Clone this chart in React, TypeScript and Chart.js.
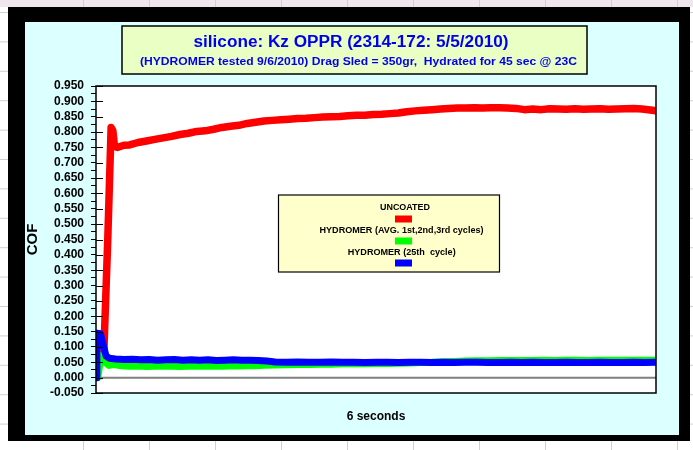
import React, { useEffect, useRef } from "react";
import { Chart, registerables } from "chart.js";

Chart.register(...registerables);

const TITLE = "silicone: Kz OPPR (2314-172: 5/5/2010)";
const SUBTITLE = "(HYDROMER tested 9/6/2010) Drag Sled = 350gr,  Hydrated for 45 sec @ 23C";
const X_TITLE = "6 seconds";
const Y_TITLE = "COF";
const SERIES_NAMES = ["UNCOATED", "HYDROMER (AVG. 1st,2nd,3rd cycles)", "HYDROMER (25th  cycle)"];
const SERIES_COLORS = ["#FF0000", "#00FF00", "#0000FF"];
const SERIES_WIDTHS = [7.5, 7, 7];
const Y_MIN = -0.05;
const Y_MAX = 0.95;
const X_MIN = 0;
const X_MAX = 100;

// [time (% of run), COF]
const uncoated: [number, number][] = [
  [0.2, 0.05], [1.4, 0.085], [2.1, 0.45], [2.7, 0.815], [3.0, 0.805], [3.3, 0.755], [3.8, 0.75],
  [5, 0.757], [6, 0.758], [7.5, 0.766], [9, 0.771], [10.5, 0.776], [12, 0.781], [13.5, 0.786],
  [15, 0.792], [16.5, 0.796], [18, 0.802], [19.5, 0.804], [21, 0.809], [22.5, 0.815], [24, 0.819],
  [25.5, 0.822], [27, 0.828], [28.5, 0.832], [30, 0.836], [31.5, 0.838], [33, 0.84], [34.5, 0.842],
  [36, 0.844], [37.5, 0.845], [39, 0.847], [40.5, 0.849], [42, 0.85], [43.5, 0.851], [45, 0.853],
  [46.5, 0.855], [48, 0.855], [49.5, 0.857], [51, 0.858], [52.5, 0.86], [54, 0.862], [55.5, 0.866],
  [57, 0.869], [58.5, 0.871], [60, 0.873], [61.5, 0.875], [63, 0.877], [64.5, 0.878], [66, 0.878],
  [67.5, 0.879], [69, 0.878], [70.5, 0.879], [72, 0.879], [73.5, 0.878], [75, 0.877], [76.5, 0.873],
  [78, 0.875], [79.5, 0.873], [81, 0.876], [82.5, 0.875], [84, 0.874], [85.5, 0.876], [87, 0.874],
  [88.5, 0.875], [90, 0.876], [91.5, 0.874], [93, 0.875], [94.5, 0.876], [96, 0.877], [97.5, 0.875],
  [99, 0.872], [100, 0.869],
];

const hydromerAvg: [number, number][] = [
  [0.3, 0.0], [0.8, 0.055], [1.2, 0.075], [1.7, 0.05], [2.3, 0.04], [3.2, 0.043], [4.5, 0.039],
  [6, 0.037], [7.5, 0.038], [9, 0.036], [10.5, 0.037], [12, 0.038], [13.5, 0.037], [15, 0.036],
  [16.5, 0.037], [18, 0.038], [19.5, 0.037], [21, 0.038], [22.5, 0.037], [24, 0.038], [25.5, 0.038],
  [27, 0.039], [28.5, 0.039], [30, 0.04], [32, 0.041], [34, 0.042], [36, 0.043], [38, 0.043],
  [40, 0.044], [42, 0.044], [44, 0.045], [46, 0.045], [48, 0.045], [50, 0.046], [52, 0.046],
  [54, 0.047], [56, 0.048], [58, 0.049], [60, 0.05], [62, 0.052], [64, 0.053], [66, 0.054],
  [68, 0.055], [70, 0.055], [72, 0.056], [74, 0.056], [76, 0.056], [78, 0.056], [80, 0.057],
  [82, 0.056], [84, 0.057], [86, 0.057], [88, 0.056], [90, 0.057], [92, 0.057], [94, 0.057],
  [96, 0.057], [98, 0.057], [100, 0.057],
];

const hydromer25: [number, number][] = [
  [0, 0.0], [0.15, 0.145], [0.8, 0.143], [1.3, 0.105], [1.8, 0.07], [2.4, 0.063], [3.5, 0.061],
  [5, 0.059], [6.5, 0.06], [8, 0.058], [9.5, 0.059], [11, 0.057], [12.5, 0.058], [14, 0.059],
  [15.5, 0.057], [17, 0.058], [18.5, 0.057], [20, 0.058], [21.5, 0.056], [23, 0.057], [24.5, 0.058],
  [26, 0.057], [27.5, 0.057], [29, 0.056], [30.5, 0.054], [32, 0.051], [34, 0.05], [36, 0.051],
  [38, 0.05], [40, 0.05], [42, 0.051], [44, 0.05], [46, 0.05], [48, 0.049], [50, 0.05], [52, 0.05],
  [54, 0.049], [56, 0.05], [58, 0.05], [60, 0.049], [62, 0.05], [64, 0.049], [66, 0.05], [68, 0.05],
  [70, 0.049], [72, 0.049], [74, 0.05], [76, 0.049], [78, 0.05], [80, 0.049], [82, 0.049],
  [84, 0.05], [86, 0.049], [88, 0.049], [90, 0.05], [92, 0.049], [94, 0.049], [96, 0.05],
  [98, 0.049], [100, 0.05],
];

const SERIES_DATA = [uncoated, hydromerAvg, hydromer25];

const FONT = "'Liberation Sans', Arial, Helvetica, sans-serif";

function fitText(
  ctx: CanvasRenderingContext2D,
  text: string,
  cx: number,
  cy: number,
  font: string,
  width: number,
  color: string
) {
  ctx.save();
  ctx.font = font;
  ctx.fillStyle = color;
  ctx.textAlign = "center";
  ctx.textBaseline = "middle";
  const w = ctx.measureText(text).width;
  ctx.translate(cx, cy);
  ctx.scale(width / w, 1);
  ctx.fillText(text, 0, 0);
  ctx.restore();
}

const decorPlugin = {
  id: "decor",
  beforeDraw(chart: any) {
    const ctx: CanvasRenderingContext2D = chart.ctx;
    const W = chart.width;
    const H = chart.height;
    ctx.save();
    // spreadsheet background
    ctx.fillStyle = "#FFFFFF";
    ctx.fillRect(0, 0, W, H);
    ctx.fillStyle = "#EEE8EE";
    ctx.fillRect(0, 0, W, 7);
    ctx.strokeStyle = "#D0D0D0";
    ctx.lineWidth = 1;
    for (let x = 83.5; x < W; x += 66) {
      ctx.beginPath();
      ctx.moveTo(x, 0);
      ctx.lineTo(x, H);
      ctx.stroke();
    }
    for (let y = 12.5; y < H; y += 29.4) {
      ctx.beginPath();
      ctx.moveTo(0, y);
      ctx.lineTo(W, y);
      ctx.stroke();
    }
    // black frame + cyan panel
    ctx.fillStyle = "#000000";
    ctx.fillRect(8, 7, 682, 434);
    ctx.fillStyle = "#DCFFFF";
    ctx.fillRect(25, 22, 654, 413);
    // title box
    ctx.fillStyle = "#EAFFC4";
    ctx.fillRect(122, 26, 465, 48);
    ctx.strokeStyle = "#000000";
    ctx.lineWidth = 1.5;
    ctx.strokeRect(122, 26, 465, 48);
    fitText(ctx, TITLE, 351, 43, `bold 16px ${FONT}`, 315, "#0000EE");
    fitText(ctx, SUBTITLE, 358.5, 62, `bold 10.5px ${FONT}`, 437, "#0000EE");
    // plot area
    const a = chart.chartArea;
    ctx.fillStyle = "#FFFFFF";
    ctx.fillRect(a.left, a.top, a.right - a.left, a.bottom - a.top);
    ctx.restore();
  },
  beforeDatasetsDraw(chart: any) {
    const ctx: CanvasRenderingContext2D = chart.ctx;
    const a = chart.chartArea;
    const y0 = chart.scales.y.getPixelForValue(0);
    ctx.save();
    ctx.strokeStyle = "#808080";
    ctx.lineWidth = 2;
    ctx.beginPath();
    ctx.moveTo(a.left, y0);
    ctx.lineTo(a.right, y0);
    ctx.stroke();
    ctx.restore();
  },
  afterDraw(chart: any) {
    const ctx: CanvasRenderingContext2D = chart.ctx;
    const a = chart.chartArea;
    const ys = chart.scales.y;
    ctx.save();
    // plot border
    ctx.strokeStyle = "#000000";
    ctx.lineWidth = 1.5;
    ctx.strokeRect(a.left, a.top, a.right - a.left, a.bottom - a.top);
    // inner part of major ticks
    ctx.lineWidth = 1;
    for (let m = Math.round(Y_MIN * 1000); m <= Math.round(Y_MAX * 1000); m += 50) {
      const y = Math.round(ys.getPixelForValue(m / 1000)) + 0.5;
      ctx.beginPath();
      ctx.moveTo(a.left, y);
      ctx.lineTo(a.left + 7, y);
      ctx.stroke();
    }
    // legend box
    ctx.fillStyle = "#FFFFCC";
    ctx.fillRect(278.5, 195, 221, 77);
    ctx.strokeStyle = "#000000";
    ctx.lineWidth = 1.2;
    ctx.strokeRect(278.5, 195, 221, 77);
    const textY = [207.3, 230, 252];
    const textW = [50, 164, 108];
    const textX = [405, 401.5, 401.7];
    const swY = [215.5, 237.5, 259.5];
    chart.data.datasets.forEach((ds: any, i: number) => {
      fitText(ctx, ds.label, textX[i], textY[i], `bold 9.5px ${FONT}`, textW[i], "#000000");
      ctx.fillStyle = ds.borderColor;
      ctx.fillRect(395, swY[i], 17, 7);
    });
    ctx.restore();
  },
};

export default function App() {
  const ref = useRef<HTMLCanvasElement | null>(null);

  useEffect(() => {
    if (!ref.current) return;
    Chart.defaults.font.family = FONT;
    const chart = new Chart(ref.current, {
      type: "line",
      data: {
        datasets: SERIES_DATA.map((pts, i) => ({
          label: SERIES_NAMES[i],
          data: pts.map(([x, y]) => ({ x, y })),
          borderColor: SERIES_COLORS[i],
          backgroundColor: SERIES_COLORS[i],
          borderWidth: SERIES_WIDTHS[i],
          pointRadius: 0,
          tension: 0,
          borderJoinStyle: "round" as const,
          borderCapStyle: "round" as const,
          order: 3 - i,
        })),
      },
      options: {
        animation: false,
        responsive: false,
        events: [],
        layout: { padding: { left: 0, right: 37, top: 86, bottom: 0 } },
        plugins: {
          legend: { display: false },
          tooltip: { enabled: false },
        },
        scales: {
          x: {
            type: "linear",
            min: X_MIN,
            max: X_MAX,
            ticks: { display: false },
            grid: { display: false },
            border: { display: false },
            title: {
              display: true,
              text: X_TITLE,
              color: "#000000",
              font: { size: 12, weight: "bold" },
              padding: { top: 0, bottom: 26 },
            },
            afterFit: (s: any) => {
              s.height = 57;
            },
          },
          y: {
            type: "linear",
            min: Y_MIN,
            max: Y_MAX,
            ticks: {
              stepSize: 0.025,
              autoSkip: false,
              color: "#000000",
              padding: 7,
              font: { size: 12, weight: "bold" },
              callback: (v: any) => {
                const m = Math.round(Number(v) * 1000);
                return m % 50 === 0 ? (m / 1000).toFixed(3) : "";
              },
            },
            grid: { drawOnChartArea: false, tickLength: 5, color: "#000000", lineWidth: 1 },
            border: { display: false },
            title: {
              display: true,
              text: Y_TITLE,
              color: "#000000",
              font: { size: 15, weight: "bold" },
              padding: { top: 24, bottom: 0 },
            },
            afterFit: (s: any) => {
              s.width = 96;
            },
          },
        },
      },
      plugins: [decorPlugin],
    });
    return () => chart.destroy();
  }, []);

  return (
    <div style={{ position: "fixed", left: 0, top: 0, width: 693, height: 450 }}>
      <canvas ref={ref} width={693} height={450} style={{ display: "block", width: 693, height: 450 }} />
    </div>
  );
}
